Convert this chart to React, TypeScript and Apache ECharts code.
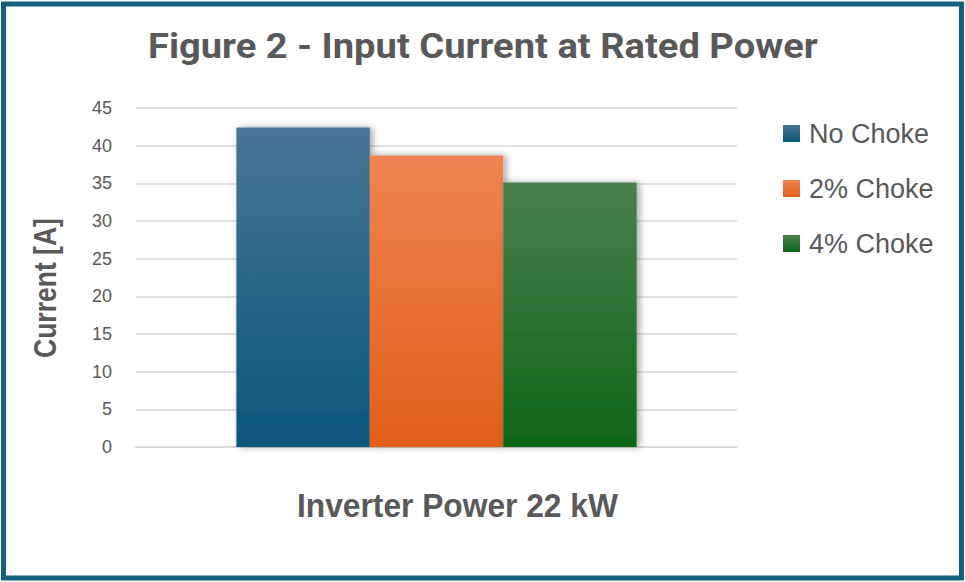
import React, { useEffect, useRef } from "react";
import * as echarts from "echarts";

const titleText = "Figure 2 - Input Current at Rated Power";
const yAxisName = "Current [A]";
const categories = ["Inverter Power 22 kW"];
const seriesNames = ["No Choke", "2% Choke", "4% Choke"];
const noChoke = [42.4];
const choke2 = [38.7];
const choke4 = [35.1];
const yTicks = { min: 0, max: 45, interval: 5 };

const gradients = [
  ["#4a7594", "#0a577b"],
  ["#ef8453", "#e25f1b"],
  ["#4a7f4e", "#0f6618"],
];

function measure(text: string, font: string): number {
  const c = document.createElement("canvas");
  const ctx = c.getContext("2d");
  if (!ctx) return 0;
  ctx.font = font;
  return ctx.measureText(text).width;
}

export default function App() {
  const ref = useRef<HTMLDivElement>(null);
  useEffect(() => {
    if (!ref.current) return;
    const chart = echarts.init(ref.current, null, { renderer: "svg" });
    const data = [noChoke, choke2, choke4];

    const titleFont = "Roboto";
    const titleSize = 36;
    const tw = measure(titleText, `bold ${titleSize}px ${titleFont}`) || 670;
    const titleScale = 670 / tw;

    const nameFont = "Liberation Sans";
    const xSize = 33;
    const xw = measure(categories[0], `bold ${xSize}px "${nameFont}"`) || 321;
    const xScale = 321 / xw;

    const ySize = 32;
    const yw = measure(yAxisName, `bold ${ySize}px "${nameFont}"`) || 140;
    const yScale = 140 / yw;

    chart.setOption({
      animation: false,
      backgroundColor: "#ffffff",
      legend: {
        orient: "vertical",
        left: 783,
        top: 120,
        padding: 0,
        itemWidth: 17,
        itemHeight: 17,
        itemGap: 28,
        icon: "rect",
        textStyle: {
          fontFamily: "Liberation Sans",
          fontSize: 27,
          color: "#595959",
          padding: [0, 0, 0, 4],
        },
        data: seriesNames,
      },
      grid: { left: 136, right: 228, top: 108, bottom: 135, containLabel: false },
      xAxis: {
        type: "category",
        data: categories,
        axisLine: { lineStyle: { color: "#d9d9d9", width: 2 } },
        axisTick: { show: false },
        axisLabel: { show: false },
      },
      yAxis: {
        type: "value",
        min: yTicks.min,
        max: yTicks.max,
        interval: yTicks.interval,
        axisLine: { show: false },
        axisTick: { show: false },
        axisLabel: {
          fontFamily: "Liberation Sans",
          fontSize: 18,
          color: "#595959",
          margin: 24,
        },
        splitLine: { lineStyle: { color: "#d9d9d9", width: 1.5 } },
      },
      graphic: [
        {
          type: "text",
          x: 148,
          y: 28,
          scaleX: titleScale,
          style: {
            text: titleText,
            fontFamily: titleFont,
            fontWeight: "bold",
            fontSize: titleSize,
            fill: "#595959",
            align: "left",
            verticalAlign: "top",
          },
        },
        {
          type: "text",
          x: 297,
          y: 489,
          scaleX: xScale,
          style: {
            text: categories[0],
            fontFamily: nameFont,
            fontWeight: "bold",
            fontSize: xSize,
            fill: "#595959",
            align: "left",
            verticalAlign: "top",
          },
        },
        {
          type: "text",
          x: 29,
          y: 358,
          rotation: Math.PI / 2,
          scaleX: yScale,
          style: {
            text: yAxisName,
            fontFamily: nameFont,
            fontWeight: "bold",
            fontSize: ySize,
            fill: "#595959",
            align: "left",
            verticalAlign: "top",
          },
        },
        {
          type: "rect",
          shape: { x: 3.5, y: 4, width: 958, height: 574 },
          style: { fill: "none", stroke: "#15607f", lineWidth: 5 },
          z: 100,
        },
      ],
      series: seriesNames.map((name, i) => ({
        name,
        type: "bar",
        data: data[i],
        barGap: "0%",
        barCategoryGap: "33.4%",
        itemStyle: {
          color: new echarts.graphic.LinearGradient(0, 0, 0, 1, [
            { offset: 0, color: gradients[i][0] },
            { offset: 1, color: gradients[i][1] },
          ]),
          shadowColor: "rgba(0,0,0,0.35)",
          shadowBlur: 7,
          shadowOffsetX: 3,
          shadowOffsetY: 0,
        },
      })),
    });
    return () => chart.dispose();
  }, []);
  return (
    <div
      ref={ref}
      style={{ position: "absolute", left: 0, top: 0, width: 965, height: 582 }}
    />
  );
}
